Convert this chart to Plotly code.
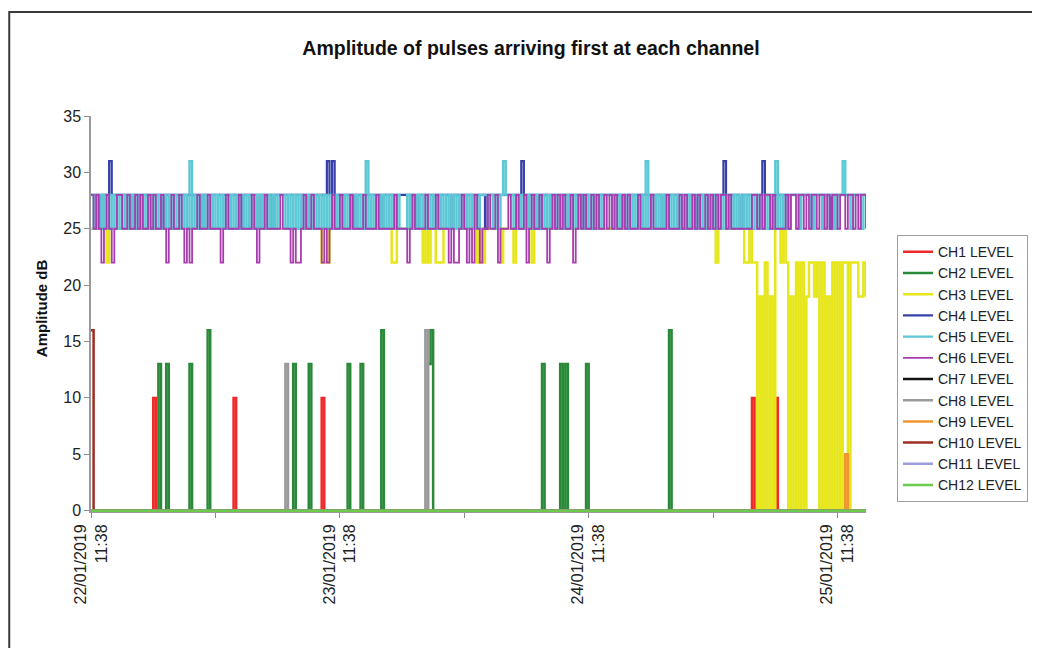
import numpy as np
import pandas as pd
import plotly.graph_objects as go

# ---------------- data ----------------
START = "2019-01-22 11:38"
N_SAMPLES = 300          # 15-minute samples
STEP = "15min"

TICK_DATES = ["2019-01-22 11:38", "2019-01-22 23:38", "2019-01-23 11:38",
              "2019-01-23 23:38", "2019-01-24 11:38", "2019-01-24 23:38",
              "2019-01-25 11:38"]
TICK_TEXT = ["22/01/2019<br>11:38", "", "23/01/2019<br>11:38", "",
             "24/01/2019<br>11:38", "", "25/01/2019<br>11:38"]

SERIES_NAMES = ["CH1 LEVEL", "CH2 LEVEL", "CH3 LEVEL", "CH4 LEVEL", "CH5 LEVEL",
                "CH6 LEVEL", "CH7 LEVEL", "CH8 LEVEL", "CH9 LEVEL", "CH10 LEVEL",
                "CH11 LEVEL", "CH12 LEVEL"]

# sparse channels: sample index of each pulse and its amplitude (dB), 0 elsewhere
CH1_IDX = [24, 55, 89, 255, 264]
CH1_VAL = [10, 10, 10, 10, 10]
CH2_IDX = [26, 29, 38, 45, 78, 84, 99, 104, 112, 130, 131, 174, 181, 183, 191, 223]
CH2_VAL = [13, 13, 13, 16, 13, 13, 13, 13, 16, 13, 16, 13, 13, 13, 13, 16]
CH7_IDX = []
CH7_VAL = []
CH8_IDX = [75, 129]
CH8_VAL = [13, 16]
CH9_IDX = [291]
CH9_VAL = [5]
CH10_IDX = [0]
CH10_VAL = [16]
CH11_IDX = []
CH11_VAL = []
CH12_IDX = []
CH12_VAL = []

CH3_LEVEL = [
    25, 25, 25, 25, 25, 25, 22, 25, 25, 25, 25, 25, 25, 25, 25, 25, 25, 25, 25, 25,
    25, 25, 25, 25, 25, 25, 25, 25, 25, 25, 25, 25, 25, 25, 25, 25, 25, 25, 25, 25,
    25, 25, 25, 25, 25, 25, 25, 25, 25, 25, 25, 25, 25, 25, 25, 25, 25, 25, 25, 25,
    25, 25, 25, 25, 25, 25, 25, 25, 25, 25, 25, 25, 25, 25, 25, 25, 25, 25, 25, 25,
    25, 25, 25, 25, 25, 25, 25, 25, 25, 22, 22, 22, 25, 25, 25, 25, 25, 25, 25, 25,
    25, 25, 25, 25, 25, 25, 25, 25, 25, 25, 25, 25, 25, 25, 25, 25, 22, 22, 25, 25,
    25, 25, 25, 25, 25, 25, 25, 25, 22, 25, 22, 25, 25, 22, 22, 22, 25, 25, 25, 25,
    25, 25, 25, 25, 25, 25, 25, 25, 25, 22, 25, 22, 25, 25, 25, 25, 25, 25, 22, 25,
    25, 25, 25, 22, 25, 25, 25, 25, 25, 25, 22, 25, 25, 25, 25, 25, 25, 25, 25, 25,
    25, 25, 25, 25, 25, 25, 25, 25, 25, 25, 25, 25, 25, 25, 25, 25, 25, 25, 25, 25,
    25, 25, 25, 25, 25, 25, 25, 25, 25, 25, 25, 25, 25, 25, 25, 25, 25, 25, 25, 25,
    25, 25, 25, 25, 25, 25, 25, 25, 25, 25, 25, 25, 25, 25, 25, 25, 25, 25, 25, 25,
    25, 22, 25, 25, 25, 25, 25, 25, 25, 25, 25, 25, 22, 22, 25, 22, 22, 0, 19, 0,
    22, 0, 19, 0, 25, 25, 22, 25, 22, 0, 19, 0, 22, 0, 22, 0, 19, 22, 22, 19,
    22, 0, 22, 0, 19, 0, 22, 0, 22, 0, 22, 22, 0, 22, 22, 22, 19, 19, 22, 19,
]

CH4_LEVEL = [
    28, 28, 28, 25, 28, 28, 28, 31, 28, 28, 28, 28, 28, 28, 28, 25, 28, 28, 28, 28,
    28, 28, 28, 28, 28, 28, 28, 25, 28, 28, 28, 28, 28, 28, 28, 28, 28, 28, 28, 28,
    28, 28, 25, 28, 28, 28, 28, 28, 28, 28, 28, 28, 28, 28, 28, 28, 28, 28, 25, 28,
    28, 28, 28, 28, 28, 25, 28, 28, 28, 28, 25, 28, 28, 28, 28, 28, 28, 28, 28, 28,
    28, 28, 28, 25, 28, 28, 28, 28, 28, 28, 28, 31, 28, 31, 28, 28, 28, 28, 28, 28,
    28, 25, 28, 28, 28, 28, 28, 28, 28, 28, 28, 28, 25, 28, 28, 28, 28, 28, 28, 28,
    28, 28, 28, 28, 28, 25, 28, 28, 28, 28, 28, 28, 28, 28, 28, 28, 28, 28, 28, 25,
    28, 28, 28, 28, 28, 28, 28, 28, 28, 28, 28, 28, 25, 28, 28, 28, 28, 28, 28, 28,
    28, 28, 28, 28, 28, 28, 31, 28, 28, 28, 28, 28, 25, 28, 28, 28, 28, 28, 28, 28,
    28, 28, 28, 28, 28, 28, 28, 28, 28, 28, 25, 28, 28, 28, 28, 28, 28, 28, 28, 28,
    28, 28, 28, 28, 28, 25, 28, 28, 28, 28, 28, 28, 28, 28, 28, 28, 28, 28, 28, 28,
    25, 28, 28, 28, 28, 28, 28, 28, 28, 28, 28, 28, 28, 25, 28, 28, 28, 28, 28, 28,
    28, 28, 28, 28, 31, 28, 28, 28, 28, 28, 25, 28, 28, 28, 28, 28, 28, 28, 28, 31,
    28, 28, 28, 28, 28, 28, 28, 28, 28, 28, 28, 28, 28, 28, 28, 28, 28, 28, 25, 28,
    28, 28, 28, 28, 28, 25, 28, 28, 28, 28, 28, 28, 28, 28, 28, 28, 28, 28, 28, 28,
]

CH5_LEVEL = [
    28, 25, 28, 25, 28, 25, 28, 25, 28, 25, 28, 25, 28, 25, 28, 25, 28, 25, 28, 25,
    28, 25, 28, 25, 28, 25, 28, 25, 28, 25, 28, 25, 28, 25, 28, 25, 28, 25, 31, 25,
    28, 25, 28, 25, 28, 25, 28, 25, 28, 25, 28, 25, 28, 25, 28, 25, 28, 25, 28, 25,
    28, 25, 28, 25, 28, 25, 28, 25, 28, 25, 28, 25, 28, 28, 28, 25, 28, 25, 28, 25,
    28, 25, 28, 25, 28, 25, 28, 25, 28, 25, 28, 25, 28, 25, 28, 25, 28, 25, 28, 25,
    28, 25, 28, 25, 28, 25, 31, 25, 28, 25, 28, 25, 28, 25, 28, 25, 28, 25, 28, 25,
    25, 25, 28, 25, 28, 25, 28, 25, 28, 25, 28, 25, 28, 25, 28, 25, 28, 25, 28, 25,
    28, 25, 28, 25, 28, 25, 28, 25, 28, 25, 28, 28, 28, 28, 28, 25, 28, 25, 28, 31,
    28, 28, 28, 25, 28, 25, 28, 25, 28, 25, 28, 25, 28, 25, 28, 25, 28, 25, 28, 25,
    28, 25, 28, 25, 28, 25, 28, 25, 28, 25, 28, 25, 28, 25, 28, 25, 28, 25, 28, 28,
    28, 25, 28, 25, 28, 25, 28, 25, 28, 25, 28, 25, 28, 25, 31, 25, 28, 25, 28, 25,
    28, 25, 28, 25, 28, 25, 28, 25, 28, 25, 28, 25, 28, 25, 28, 25, 28, 25, 28, 25,
    28, 25, 28, 25, 28, 25, 28, 25, 28, 25, 28, 25, 28, 25, 28, 25, 28, 25, 28, 25,
    28, 25, 28, 25, 31, 25, 28, 25, 28, 25, 28, 28, 28, 25, 28, 28, 28, 28, 25, 28,
    28, 28, 25, 28, 28, 28, 28, 25, 28, 28, 31, 28, 28, 25, 28, 28, 28, 25, 28, 28,
]

CH6_LEVEL = [
    28, 25, 28, 25, 22, 25, 28, 25, 22, 25, 28, 28, 25, 25, 28, 25, 25, 28, 25, 28,
    25, 25, 28, 25, 28, 25, 25, 28, 25, 22, 25, 28, 25, 25, 28, 25, 22, 25, 22, 25,
    25, 28, 25, 25, 25, 28, 25, 25, 25, 25, 22, 25, 28, 25, 25, 25, 25, 28, 25, 25,
    25, 25, 28, 25, 22, 25, 25, 28, 25, 25, 25, 25, 25, 28, 25, 25, 25, 22, 25, 22,
    22, 25, 28, 25, 25, 28, 25, 25, 25, 22, 25, 22, 25, 28, 25, 25, 28, 25, 25, 25,
    28, 25, 25, 25, 25, 28, 25, 25, 25, 25, 28, 25, 25, 25, 25, 25, 25, 28, 25, 25,
    25, 25, 22, 25, 28, 25, 25, 25, 25, 28, 25, 25, 25, 28, 25, 25, 25, 25, 22, 25,
    22, 22, 25, 28, 25, 22, 25, 22, 28, 25, 22, 25, 25, 28, 25, 25, 28, 22, 25, 25,
    25, 28, 25, 25, 28, 25, 25, 28, 22, 25, 28, 25, 25, 28, 25, 25, 22, 25, 28, 25,
    28, 25, 28, 25, 25, 28, 22, 25, 28, 25, 28, 25, 25, 28, 25, 28, 25, 25, 28, 25,
    28, 25, 28, 25, 25, 28, 25, 28, 25, 25, 25, 28, 25, 25, 25, 25, 28, 25, 25, 25,
    25, 25, 28, 25, 25, 25, 25, 28, 25, 28, 25, 25, 28, 25, 28, 25, 25, 28, 25, 28,
    25, 28, 25, 28, 28, 25, 28, 25, 25, 25, 25, 25, 25, 25, 25, 28, 28, 25, 28, 25,
    28, 28, 25, 28, 25, 25, 25, 25, 28, 25, 28, 28, 25, 28, 28, 25, 28, 25, 28, 28,
    25, 28, 28, 25, 28, 25, 28, 28, 25, 28, 28, 25, 28, 28, 25, 28, 25, 28, 28, 25,
]

COLORS = ["#EE2A2A", "#2A8A3A", "#E6E61A", "#3640A8", "#5CC8D6", "#A83CAE",
          "#111111", "#9A9A9A", "#F0962E", "#9E2E22", "#9C9CDC", "#6CCB4A"]
WIDTHS = [2.5, 2.5, 2.5, 2.2, 2.4, 1.8, 2.5, 2.5, 2.5, 2.5, 2.5, 2.5]

# ---------------- build figure ----------------
times = pd.date_range(start=START, periods=N_SAMPLES, freq=STEP)


def sparse_series(idx, val):
    y = np.zeros(N_SAMPLES)
    y[idx] = val
    return y


series_values = [
    sparse_series(CH1_IDX, CH1_VAL),
    sparse_series(CH2_IDX, CH2_VAL),
    np.array(CH3_LEVEL, dtype=float),
    np.array(CH4_LEVEL, dtype=float),
    np.array(CH5_LEVEL, dtype=float),
    np.array(CH6_LEVEL, dtype=float),
    sparse_series(CH7_IDX, CH7_VAL),
    sparse_series(CH8_IDX, CH8_VAL),
    sparse_series(CH9_IDX, CH9_VAL),
    sparse_series(CH10_IDX, CH10_VAL),
    sparse_series(CH11_IDX, CH11_VAL),
    sparse_series(CH12_IDX, CH12_VAL),
]

fig = go.Figure()
for name, yv, col, w in zip(SERIES_NAMES, series_values, COLORS, WIDTHS):
    fig.add_trace(go.Scatter(x=times, y=yv, mode="lines", name=name,
                             line=dict(color=col, width=w, shape="hv")))

FONT = "Liberation Sans, Arial, Helvetica, sans-serif"

# page has an 8px body margin, so the figure is 8px smaller than the window
W, H = 1032, 640
fig.update_layout(
    width=W, height=H,
    margin=dict(l=83, r=172, t=108, b=136),
    paper_bgcolor="white", plot_bgcolor="white",
    font=dict(family=FONT, color="#222222", size=14),
    title=dict(text="<b>Amplitude of pulses arriving first at each channel</b>",
               x=523 / W, xref="container", xanchor="center",
               y=1 - 40 / H, yref="container", yanchor="middle",
               font=dict(size=19.5, color="#111111", family=FONT)),
    showlegend=True,
    legend=dict(x=1.04, y=0.699, xanchor="left", yanchor="top",
                bordercolor="#a0a0a0", borderwidth=1, bgcolor="white",
                font=dict(size=14, color="#222222", family=FONT),
                tracegroupgap=0),
    xaxis=dict(type="date", range=[times[0], times[-1]],
               tickvals=TICK_DATES, ticktext=TICK_TEXT, tickangle=-90,
               ticks="outside", ticklen=5, tickcolor="#8a8a8a",
               showline=True, linecolor="#9a9a9a", linewidth=1,
               showgrid=False, zeroline=False,
               tickfont=dict(size=16, color="#222222", family=FONT)),
    yaxis=dict(range=[-0.12, 35], dtick=5, tick0=0,
               ticks="outside", ticklen=5, tickcolor="#8a8a8a",
               showline=True, linecolor="#9a9a9a", linewidth=1.5,
               showgrid=False, zeroline=False,
               tickfont=dict(size=16, color="#222222", family=FONT)),
    annotations=[dict(text="<b>Amplitude dB</b>", textangle=-90,
                      x=-0.0644, y=0.515, xref="paper", yref="paper",
                      xanchor="center", yanchor="middle", showarrow=False,
                      font=dict(size=15, color="#111111", family=FONT))],
    shapes=[dict(type="rect", xref="paper", yref="paper",
                 x0=-0.1055, x1=1.3, y0=-0.4, y1=1.2626,
                 line=dict(color="#3a3a3a", width=2), fillcolor="rgba(0,0,0,0)",
                 layer="below")],
)

fig.write_html("out.html")
